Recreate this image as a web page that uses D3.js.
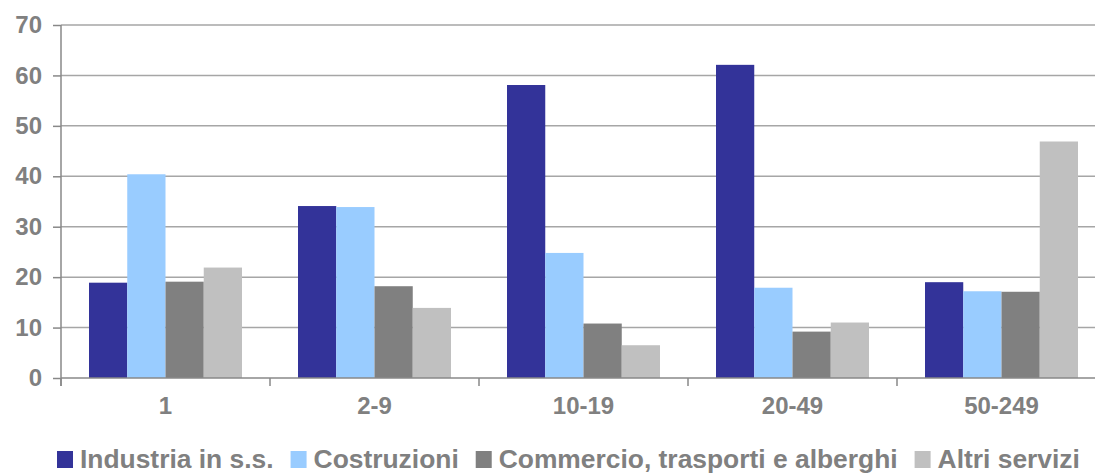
<!DOCTYPE html>
<html>
<head>
<meta charset="utf-8">
<script src="https://cdn.jsdelivr.net/npm/d3@7"></script>
<style>
  body { margin: 0; background: #fff; }
  text { font-family: "Liberation Sans", Arial, sans-serif; font-weight: bold; fill: #808080; }
</style>
</head>
<body>
<svg id="chart" width="1095" height="475"></svg>
<script>
// dati
var categories = ["1", "2-9", "10-19", "20-49", "50-249"];
var seriesNames = ["Industria in s.s.", "Costruzioni", "Commercio, trasporti e alberghi", "Altri servizi"];
var industria = [18.9, 34.1, 58.1, 62.1, 19.0];
var costruzioni = [40.4, 33.9, 24.8, 17.9, 17.2];
var commercio = [19.1, 18.2, 10.8, 9.2, 17.1];
var altri = [21.9, 13.9, 6.5, 11.0, 46.9];
var yTicks = [0, 10, 20, 30, 40, 50, 60, 70];
var colors = ["#333399", "#99ccff", "#808080", "#c0c0c0"];

var seriesValues = [industria, costruzioni, commercio, altri];

var svg = d3.select("#chart");
var plotLeft = 61, plotTop = 25, plotBottom = 378, bandW = 209;

var x = d3.scaleBand().domain(categories).range([plotLeft, plotLeft + bandW * categories.length]);
var xInner = d3.scaleBand().domain(d3.range(seriesNames.length)).range([28, 181]);
var y = d3.scaleLinear().domain([0, 70]).range([plotBottom, plotTop]);

// griglia orizzontale
svg.append("g").selectAll("line")
  .data(yTicks.filter(function(d) { return d > 0; }))
  .enter().append("line")
    .attr("x1", plotLeft).attr("x2", 1095)
    .attr("y1", function(d) { return y(d); })
    .attr("y2", function(d) { return y(d); })
    .attr("stroke", "#a6a6a6").attr("stroke-width", 1.5);

// barre
var groups = svg.append("g").selectAll("g")
  .data(categories)
  .enter().append("g")
    .attr("transform", function(d) { return "translate(" + x(d) + ",0)"; });

groups.selectAll("rect")
  .data(function(d, i) { return seriesValues.map(function(s, j) { return { s: j, v: s[i] }; }); })
  .enter().append("rect")
    .attr("x", function(d) { return xInner(d.s); })
    .attr("width", xInner.bandwidth())
    .attr("y", function(d) { return y(d.v); })
    .attr("height", function(d) { return plotBottom - y(d.v); })
    .attr("fill", function(d) { return colors[d.s]; });

// asse y
var yAxis = svg.append("g")
  .attr("transform", "translate(" + plotLeft + ",0)")
  .call(d3.axisLeft(y).tickValues(yTicks).tickSize(8).tickPadding(11));
yAxis.select(".domain").attr("stroke", "#888").attr("stroke-width", 1.5)
  .attr("d", "M0," + plotTop + "V" + (plotBottom + 8));
yAxis.selectAll(".tick line").attr("stroke", "#888").attr("stroke-width", 1.5);
yAxis.selectAll(".tick text")
  .style("font-size", "24px").style("font-family", "'Liberation Sans', Arial, sans-serif")
  .style("font-weight", "bold").attr("fill", "#808080");

// asse x
var xTickPos = d3.range(categories.length + 1).map(function(i) { return plotLeft + i * bandW; });
svg.append("line")
  .attr("x1", plotLeft).attr("x2", 1095).attr("y1", plotBottom).attr("y2", plotBottom)
  .attr("stroke", "#888").attr("stroke-width", 1.5);
svg.append("g").selectAll("line")
  .data(xTickPos)
  .enter().append("line")
    .attr("x1", function(d) { return d; }).attr("x2", function(d) { return d; })
    .attr("y1", plotBottom).attr("y2", plotBottom + 8)
    .attr("stroke", "#888").attr("stroke-width", 1.5);

svg.append("g").selectAll("text")
  .data(categories)
  .enter().append("text")
    .attr("x", function(d) { return x(d) + bandW / 2; })
    .attr("y", 414)
    .attr("text-anchor", "middle")
    .style("font-size", "24px")
    .text(function(d) { return d; });

// legenda
var legend = svg.append("g").attr("transform", "translate(0,468)");
var lx = 57;
seriesNames.forEach(function(name, i) {
  legend.append("rect")
    .attr("x", lx).attr("y", -17).attr("width", 16).attr("height", 17)
    .attr("fill", colors[i]);
  var t = legend.append("text")
    .attr("x", lx + 23).attr("y", 0)
    .style("font-size", "26.4px")
    .text(name);
  lx += 23 + t.node().getComputedTextLength() + 17;
});
</script>
</body>
</html>
